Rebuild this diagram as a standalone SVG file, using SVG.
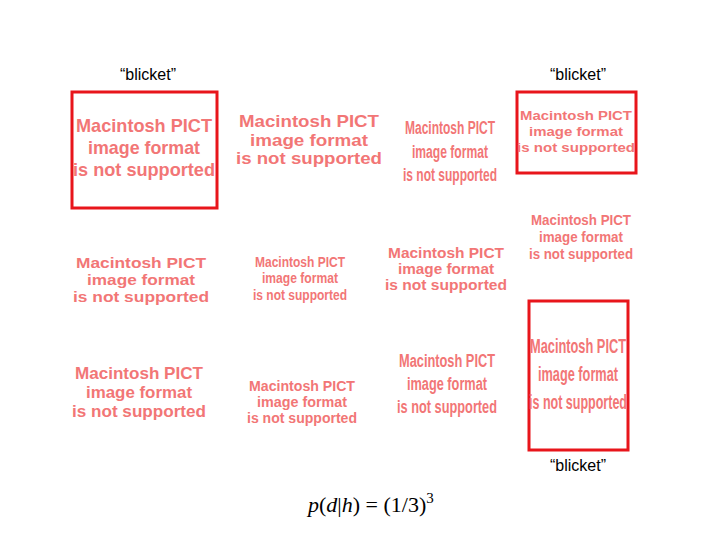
<svg xmlns="http://www.w3.org/2000/svg" width="720" height="540" viewBox="0 0 720 540">
<style>
.p{font-family:"Liberation Sans",Arial,sans-serif;font-weight:bold;fill:#f27676;text-anchor:middle}
.b{font-family:"Liberation Sans",Arial,sans-serif;font-size:16px;fill:#000;text-anchor:middle}
.box{fill:none;stroke:#e8151b;stroke-width:3}
</style>
<rect width="720" height="540" fill="#fff"/>
<g id="labels">
<text class="b" x="148" y="80">“blicket”</text>
<text class="b" x="578" y="80">“blicket”</text>
<text class="b" x="578" y="471">“blicket”</text>
</g>
<g id="boxes">
<rect class="box" x="72" y="92" width="145" height="116"/>
<rect class="box" x="517" y="92" width="119" height="81"/>
<rect class="box" x="529" y="301" width="99" height="149"/>
</g>
<g id="pict1" class="p" font-size="19"><text x="144" y="132" textLength="136" lengthAdjust="spacingAndGlyphs">Macintosh PICT</text><text x="144" y="154" textLength="112" lengthAdjust="spacingAndGlyphs">image format</text><text x="144" y="176" textLength="142" lengthAdjust="spacingAndGlyphs">is not supported</text></g>
<g id="pict2" class="p" font-size="17"><text x="309" y="127" textLength="140" lengthAdjust="spacingAndGlyphs">Macintosh PICT</text><text x="309" y="146" textLength="118" lengthAdjust="spacingAndGlyphs">image format</text><text x="309" y="164" textLength="146" lengthAdjust="spacingAndGlyphs">is not supported</text></g>
<g id="pict3" class="p" font-size="18"><text x="450" y="134" textLength="90" lengthAdjust="spacingAndGlyphs">Macintosh PICT</text><text x="450" y="158" textLength="76" lengthAdjust="spacingAndGlyphs">image format</text><text x="450" y="181" textLength="94" lengthAdjust="spacingAndGlyphs">is not supported</text></g>
<g id="pict4" class="p" font-size="13"><text x="576" y="120" textLength="112" lengthAdjust="spacingAndGlyphs">Macintosh PICT</text><text x="576" y="136" textLength="94" lengthAdjust="spacingAndGlyphs">image format</text><text x="576" y="152" textLength="118" lengthAdjust="spacingAndGlyphs">is not supported</text></g>
<g id="pict5" class="p" font-size="14"><text x="581" y="225" textLength="100" lengthAdjust="spacingAndGlyphs">Macintosh PICT</text><text x="581" y="242" textLength="84" lengthAdjust="spacingAndGlyphs">image format</text><text x="581" y="259" textLength="104" lengthAdjust="spacingAndGlyphs">is not supported</text></g>
<g id="pict6" class="p" font-size="15"><text x="141" y="268" textLength="130" lengthAdjust="spacingAndGlyphs">Macintosh PICT</text><text x="141" y="285" textLength="108" lengthAdjust="spacingAndGlyphs">image format</text><text x="141" y="302" textLength="136" lengthAdjust="spacingAndGlyphs">is not supported</text></g>
<g id="pict7" class="p" font-size="14"><text x="300" y="267" textLength="90" lengthAdjust="spacingAndGlyphs">Macintosh PICT</text><text x="300" y="283" textLength="76" lengthAdjust="spacingAndGlyphs">image format</text><text x="300" y="300" textLength="94" lengthAdjust="spacingAndGlyphs">is not supported</text></g>
<g id="pict8" class="p" font-size="15"><text x="446" y="258" textLength="116" lengthAdjust="spacingAndGlyphs">Macintosh PICT</text><text x="446" y="274" textLength="96" lengthAdjust="spacingAndGlyphs">image format</text><text x="446" y="290" textLength="122" lengthAdjust="spacingAndGlyphs">is not supported</text></g>
<g id="pict9" class="p" font-size="17"><text x="139" y="379" textLength="128" lengthAdjust="spacingAndGlyphs">Macintosh PICT</text><text x="139" y="398" textLength="106" lengthAdjust="spacingAndGlyphs">image format</text><text x="139" y="417" textLength="134" lengthAdjust="spacingAndGlyphs">is not supported</text></g>
<g id="pict10" class="p" font-size="14"><text x="302" y="391" textLength="106" lengthAdjust="spacingAndGlyphs">Macintosh PICT</text><text x="302" y="407" textLength="90" lengthAdjust="spacingAndGlyphs">image format</text><text x="302" y="423" textLength="110" lengthAdjust="spacingAndGlyphs">is not supported</text></g>
<g id="pict11" class="p" font-size="18"><text x="447" y="367" textLength="96" lengthAdjust="spacingAndGlyphs">Macintosh PICT</text><text x="447" y="390" textLength="80" lengthAdjust="spacingAndGlyphs">image format</text><text x="447" y="413" textLength="100" lengthAdjust="spacingAndGlyphs">is not supported</text></g>
<g id="pict12" class="p" font-size="21"><text x="578" y="353" textLength="96" lengthAdjust="spacingAndGlyphs">Macintosh PICT</text><text x="578" y="381" textLength="80" lengthAdjust="spacingAndGlyphs">image format</text><text x="578" y="409" textLength="98" lengthAdjust="spacingAndGlyphs">is not supported</text></g>
<g id="formula"><text x="308" y="512" font-family="'Liberation Serif','Times New Roman',serif" font-size="22" fill="#000"><tspan font-style="italic">p</tspan>(<tspan font-style="italic">d</tspan>|<tspan font-style="italic">h</tspan>) = (1/3)<tspan font-size="15" dy="-9">3</tspan></text></g>
</svg>
